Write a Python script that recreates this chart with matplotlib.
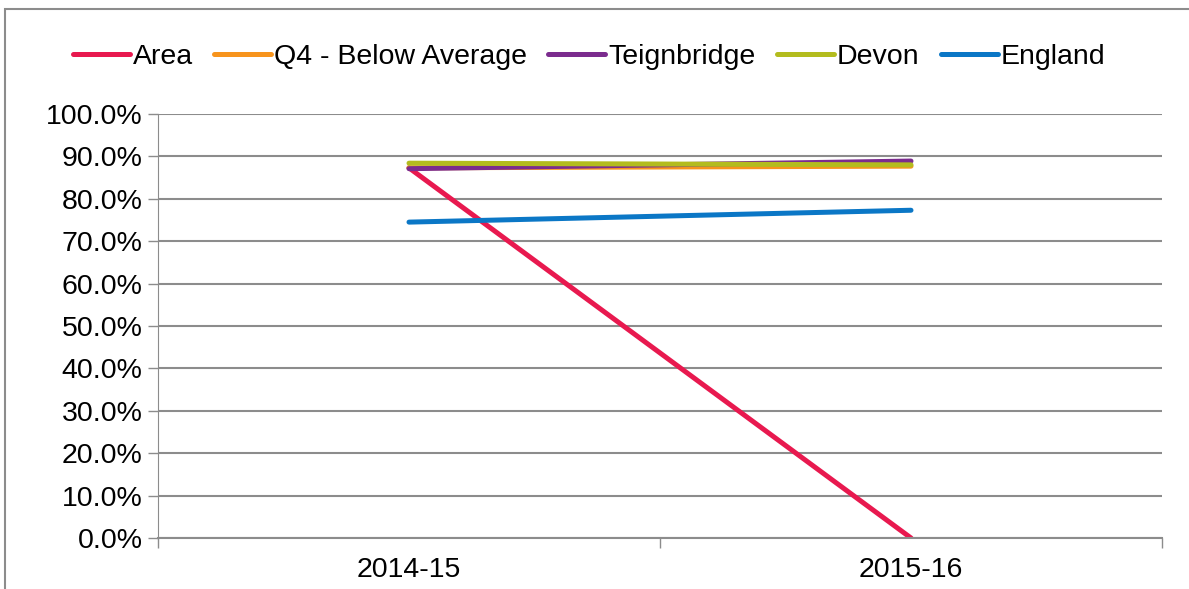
import matplotlib.pyplot as plt
from matplotlib.patches import Rectangle
from matplotlib.ticker import FuncFormatter

plt.rcParams['font.family'] = ['Liberation Sans', 'DejaVu Sans']

# ---- data ----
years = ["2014-15", "2015-16"]
area = [87.3, 0.0]
q4_below = [87.3, 87.7]
teignbridge = [87.1, 88.9]
devon = [88.4, 88.0]
england = [74.5, 77.3]

series = [
    ("Area", area, "#E8194F"),
    ("Q4 - Below Average", q4_below, "#F7941D"),
    ("Teignbridge", teignbridge, "#7B2C8E"),
    ("Devon", devon, "#B3BC1E"),
    ("England", england, "#0B77C6"),
]

FS = 20.5

fig = plt.figure(figsize=(11.89, 5.89), dpi=100)
ax = fig.add_axes([158 / 1189, 1 - 538 / 589, (1162 - 158) / 1189, (538 - 114) / 589])

# outer chart border
fig.patches.append(Rectangle((5 / 1189, -0.1), 1.2, 1 - 9 / 589 + 0.1,
                             transform=fig.transFigure, fill=False,
                             edgecolor="#8C8C8C", linewidth=1.5))

x = list(range(len(years)))
for name, vals, col in series:
    ax.plot(x, vals, color=col, lw=3.6, label=name, solid_capstyle="round")

ax.set_xlim(-0.5, len(years) - 0.5)
ax.set_ylim(0, 100)
ax.set_yticks(range(0, 101, 10))
ax.yaxis.set_major_formatter(FuncFormatter(lambda v, p: f"{v:.1f}%"))
ax.set_xticks(x)
ax.set_xticklabels(years)
ax.set_xticks([-0.5, 0.5, 1.5], minor=True)
ax.tick_params(axis="x", which="major", length=0, pad=14, labelsize=FS)
ax.tick_params(axis="x", which="minor", length=7, color="#8C8C8C", width=1)
ax.tick_params(axis="y", length=7, color="#8C8C8C", width=1, labelsize=FS, pad=4)

ax.grid(axis="y", color="#8C8C8C", lw=1.5)
ax.set_axisbelow(True)
for s in ("top", "right"):
    ax.spines[s].set_visible(False)
ax.spines["left"].set_color("#8C8C8C")
ax.spines["bottom"].set_color("#8C8C8C")
ax.spines["bottom"].set_linewidth(1.5)

leg = fig.legend(loc="center", bbox_to_anchor=(589 / 1189, 1 - 57 / 589), ncol=5,
                 frameon=False, fontsize=FS, handlelength=2.0, handletextpad=0.1,
                 columnspacing=0.75)

fig.savefig("out.png", dpi=100)
